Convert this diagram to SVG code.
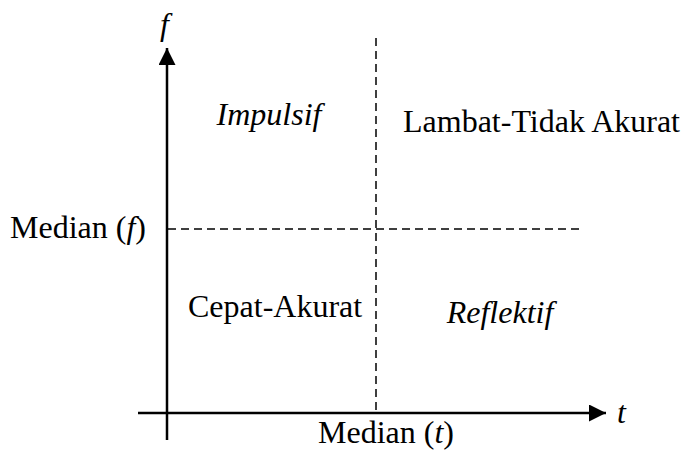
<svg xmlns="http://www.w3.org/2000/svg" width="686" height="450" viewBox="0 0 686 450">
<style>
text{font-family:"Liberation Serif","Times New Roman",serif;font-size:32px;fill:#000}
.it{font-style:italic}
.ax{stroke:#000;stroke-width:2.5;fill:none}
.dash{stroke:#000;stroke-width:1.5;stroke-dasharray:8,5;fill:none}
</style>
<defs>
<marker id="ah" viewBox="0 0 10 10" refX="10" refY="5" markerWidth="17" markerHeight="17" markerUnits="userSpaceOnUse" orient="auto">
<path d="M0,0 L10,5 L0,10 Z" fill="#000"/>
</marker>
</defs>
<g id="connectors">
<line class="ax" x1="167" y1="440" x2="167" y2="48" marker-end="url(#ah)"/>
<line class="ax" x1="138" y1="413" x2="606" y2="413" marker-end="url(#ah)"/>
<line class="dash" x1="376" y1="38" x2="376" y2="412"/>
<line class="dash" x1="168" y1="229" x2="584" y2="229"/>
</g>
<g id="axis-f"><text class="it" x="160" y="35">f</text></g>
<g id="axis-t"><text class="it" x="617" y="423">t</text></g>
<g id="median-f"><text x="10" y="238">Median (<tspan class="it">f</tspan>)</text></g>
<g id="median-t"><text x="318" y="443">Median (<tspan class="it">t</tspan>)</text></g>
<g id="impulsif"><text class="it" x="269" y="125" text-anchor="middle">Impulsif</text></g>
<g id="lambat"><text x="403" y="132">Lambat-Tidak Akurat</text></g>
<g id="cepat"><text x="188" y="317">Cepat-Akurat</text></g>
<g id="reflektif"><text class="it" x="500" y="323" text-anchor="middle">Reflektif</text></g>
</svg>
